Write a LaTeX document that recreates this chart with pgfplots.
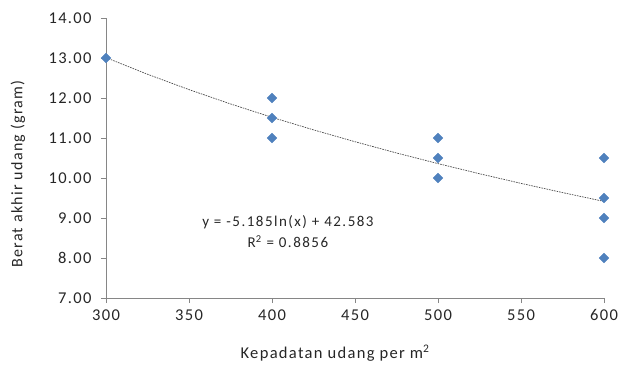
\documentclass[border=0pt]{standalone}
\usepackage{pgfplots}
\pgfplotsset{compat=1.18}
\usepackage{fontspec}
\setmainfont{Carlito}[LetterSpace=8]
\newfontfamily\eqfont{Carlito}[LetterSpace=10]
\newfontfamily\labfont{Carlito}[LetterSpace=8]
\definecolor{mblue}{HTML}{4F81BD}
\definecolor{axgray}{HTML}{868686}
\begin{document}
\begin{tikzpicture}
\useasboundingbox (-106pt,-67pt) rectangle (513pt,298pt);
\begin{axis}[
  at={(0,0)}, anchor=south west,
  scale only axis, width=498pt, height=280pt,
  xmin=300, xmax=600, ymin=7, ymax=14,
  xtick={300,350,...,600}, ytick={7,8,...,14},
  xticklabels={300,350,400,450,500,550,600},
  yticklabels={7.00,8.00,9.00,10.00,11.00,12.00,13.00,14.00},
  axis x line*=bottom, axis y line*=left,
  axis line style={axgray, line width=0.8pt},
  tick style={axgray, line width=0.8pt},
  tick align=outside, major tick length=5pt,
  x axis line style={-}, y axis line style={-},
  ticklabel style={font=\fontsize{16.5}{19}\selectfont, color=black!85},
  xlabel style={font=\labfont\fontsize{16.5}{19}\selectfont, color=black!85},
  ylabel style={font=\labfont\fontsize{16}{19}\selectfont, color=black!85},
  yticklabel style={xshift=-6pt},
  xticklabel style={yshift=-3pt},
  xlabel={Kepadatan udang per m\textsuperscript{2}},
  ylabel={Berat akhir udang (gram)},
  xlabel style={at={(axis description cs:0.46,0)}, anchor=center, yshift=-55pt},
  ylabel style={at={(axis description cs:0,0.443)}, anchor=center, yshift=88pt},
  clip=false,
]
\addplot[gray!60!black, line width=0.7pt, dash pattern=on 1.6pt off 1pt] coordinates {
(300,13.009) (325,12.594) (350,12.210) (375,11.852) (400,11.517) (425,11.203)
(450,10.907) (475,10.626) (500,10.360) (525,10.107) (550,9.866) (575,9.636) (600,9.415)};
\addplot[only marks, mark=square*, mark size=3.5pt, mark options={rotate=45, fill=mblue, draw=mblue}] coordinates {
(300,13) (400,12) (400,11.5) (400,11) (500,11) (500,10.5) (500,10)
(600,10.5) (600,9.5) (600,9) (600,8)};
\node[align=center, font=\eqfont\fontsize{15}{21}\selectfont, color=black!85] at (axis cs:409.6,8.66) {y = -5.185ln(x) + 42.583\\R\textsuperscript{2} = 0.8856};
\end{axis}
\end{tikzpicture}
\end{document}
